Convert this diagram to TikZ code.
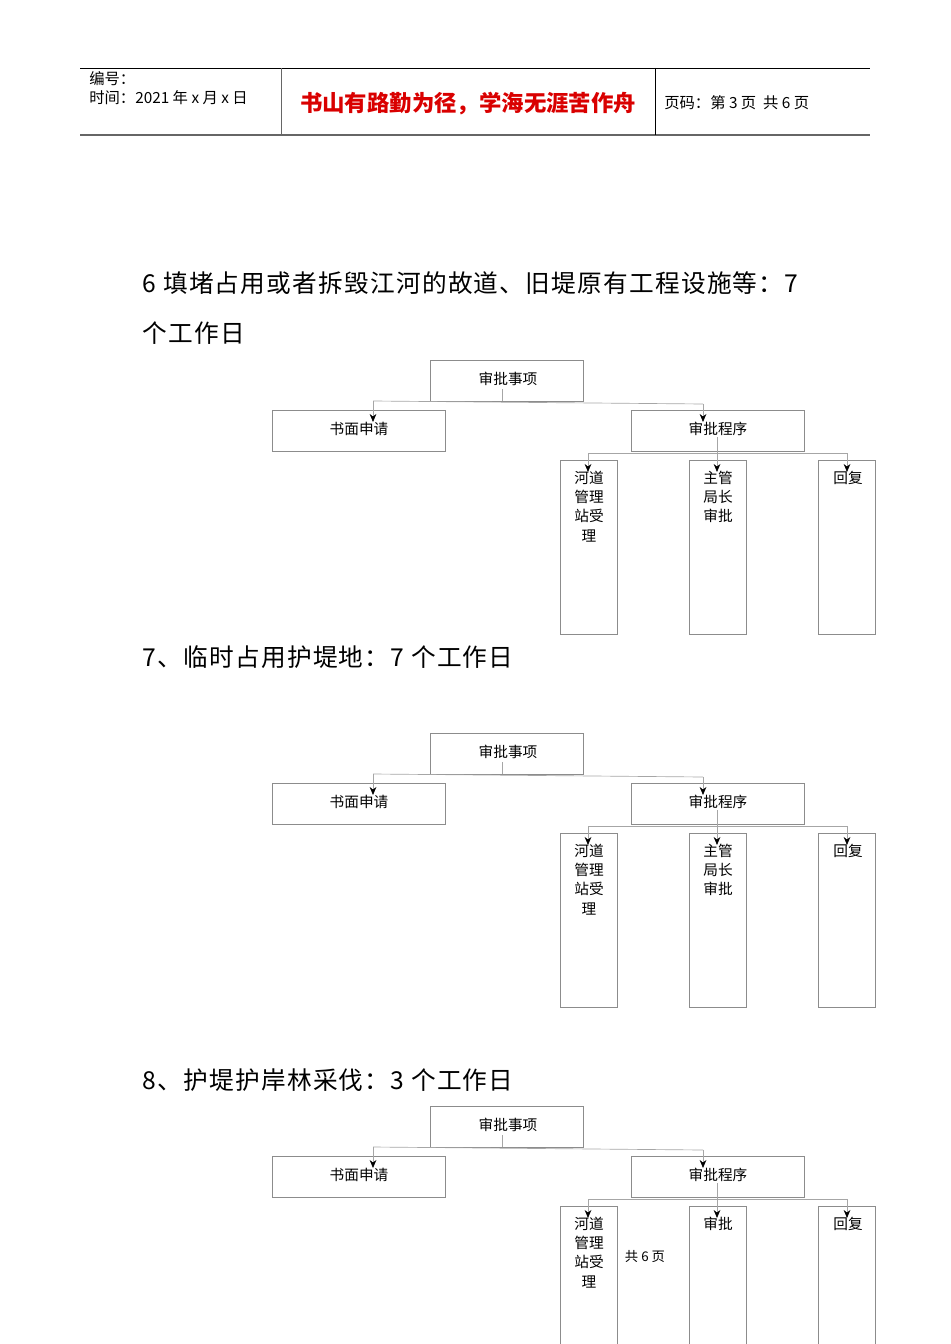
\documentclass[tikz,border=0pt]{standalone}
\usepackage{fontspec}
\setmainfont{Noto Sans CJK SC}
\usetikzlibrary{arrows.meta}
\begin{document}
\begin{tikzpicture}[x=0.75pt,y=-0.75pt,
  box/.style={draw=black!45,line width=0.5pt,inner sep=0pt},
  ln/.style={draw=black!35,line width=0.5pt},
  ar/.style={ln,-{Stealth[length=6pt,width=5pt,black]}},
  lbl/.style={font=\fontsize{11}{13}\selectfont,align=center,anchor=north},
  head/.style={font=\fontsize{18.5}{22}\selectfont\addfontfeature{LetterSpace=5},anchor=west}]
\useasboundingbox (0,0) rectangle (950,1344);
% header
\draw[line width=0.7pt] (80,68) -- (870,68);
\draw[line width=0.9pt,black!60] (80,135) -- (870,135);
\draw[line width=0.6pt,black!60] (281,68) -- (281,135);
\draw[line width=0.6pt] (655,68) -- (655,135);
\node[anchor=north west,align=left,font=\fontsize{11.5}{14.5}\selectfont,inner sep=0pt] (h1) at (89,71) {编号：\\时间：2021 年 x 月 x 日};
\node[font=\fontsize{16.8}{20}\selectfont\bfseries,text=red!85!black] (h2) at (468,104) {书山有路勤为径，学海无涯苦作舟};
\node[anchor=west,font=\fontsize{11.5}{14}\selectfont,inner sep=0pt] (h3) at (664,103) {页码：第 3 页\ \ 共 6 页};
% headings
\node[head] (t1) at (138,283) {6 填堵占用或者拆毁江河的故道、旧堤原有工程设施等：7};
\node[head] (t2) at (138,333) {个工作日};
\node[head] (t3) at (138,657) {7、临时占用护堤地：7 个工作日};
\node[head] (t4) at (138,1080) {8、护堤护岸林采伐：3 个工作日};
\newcommand{\orgchart}[3]{%
 \begin{scope}[yshift=-#1*0.75pt]
 \node[box,minimum width=153*0.75pt,minimum height=41*0.75pt] (top#3) at (506.5,380.5) {};
 \node[lbl] at (508,367) {审批事项};
 \node[box,minimum width=173*0.75pt,minimum height=41*0.75pt] (a#3) at (358.5,430.5) {};
 \node[lbl] at (359,417) {书面申请};
 \node[box,minimum width=173*0.75pt,minimum height=41*0.75pt] (b#3) at (717.5,430.5) {};
 \node[lbl] at (718,417) {审批程序};
 \node[box,minimum width=57*0.75pt,minimum height=174*0.75pt] (c#3) at (588.5,547) {};
 \node[lbl,font=\fontsize{11}{14.5}\selectfont] at (589,466) {河道\\管理\\站受\\理};
 \node[box,minimum width=57*0.75pt,minimum height=174*0.75pt] (d#3) at (717.5,547) {};
 \node[lbl,font=\fontsize{11}{14.5}\selectfont] at (718,466) {#2};
 \node[box,minimum width=57*0.75pt,minimum height=174*0.75pt] (e#3) at (846.5,547) {};
 \node[lbl] at (848,466) {回复};
 \coordinate (p0#3) at (502,389); \coordinate (p1#3) at (502,401);
 \coordinate (pl#3) at (373,401); \coordinate (pr#3) at (703,404);
 \coordinate (al#3) at (373,422); \coordinate (arr#3) at (703,422);
 \draw[ln] (p0#3) -- (p1#3);
 \draw[ln] (pl#3) -- (pr#3);
 \draw[ar] (pl#3) -- (al#3);
 \draw[ar] (pr#3) -- (arr#3);
 \coordinate (q0#3) at (588,453); \coordinate (q1#3) at (847,453);
 \coordinate (m0#3) at (717,437); \coordinate (m1#3) at (717,472);
 \draw[ln] (q0#3) -- (q1#3);
 \draw[ar] (q0#3) -- (588,472);
 \draw[ar] (q1#3) -- (847,472);
 \draw[ar] (m0#3) -- (m1#3);
 \end{scope}}
\orgchart{0}{主管\\局长\\审批}{A}
\orgchart{373}{主管\\局长\\审批}{B}
\begin{scope}
\clip (0,0) rectangle (950,1344);
\orgchart{746}{审批}{C}
\end{scope}
\node[font=\fontsize{10}{12}\selectfont] (ft) at (645,1256) {共 6 页};
\end{tikzpicture}
\end{document}
